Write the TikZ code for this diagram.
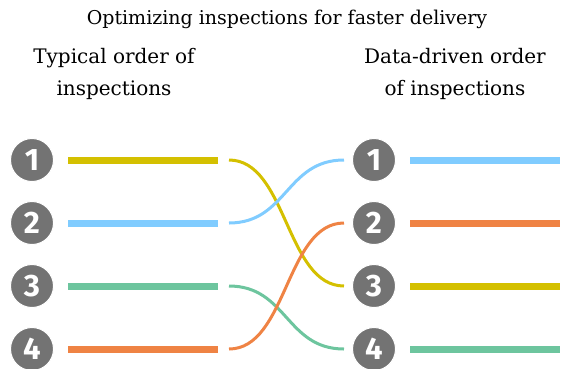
\documentclass[tikz,border=0pt]{standalone}
\usepackage{fontspec}
\setmainfont{DejaVu Serif}
\newfontfamily\numfont{Fira Sans}
\usepackage{tikz}
\definecolor{yel}{RGB}{212,192,0}
\definecolor{blu}{RGB}{128,204,255}
\definecolor{grn}{RGB}{109,197,158}
\definecolor{org}{RGB}{239,131,68}
\definecolor{disk}{RGB}{115,115,115}
\tikzset{num/.style={draw=white,line width=1pt,shape=circle,fill=disk,minimum size=43pt,inner sep=0pt,text=white,font=\numfont\bfseries\fontsize{31}{31}\selectfont}}
\tikzset{bar/.style={line width=7pt}}
\tikzset{swap/.style={line width=3pt}}
\tikzset{head/.style={align=center,font=\fontsize{20}{32}\selectfont}}

\begin{document}
\begin{tikzpicture}[x=1pt,y=-1pt]
		\useasboundingbox (0,0) rectangle (564,368);

		\node[font=\fontsize{19}{21}\selectfont](title) at (287,19){Optimizing inspections for faster delivery};
		\node[head](typ) at (114,74){Typical order of\\inspections};
		\node[head](dat) at (455,74){Data-driven order\\of inspections};

		% left column
		\node[num](l1) at (32,160){1};
		\node[num](l2) at (32,223){2};
		\node[num](l3) at (32,286){3};
		\node[num](l4) at (32,349){4};

		% right column
		\node[num](r1) at (374,160){1};
		\node[num](r2) at (374,223){2};
		\node[num](r3) at (374,286){3};
		\node[num](r4) at (374,349){4};

		\coordinate (la1) at (68,160);  \coordinate (lb1) at (218,160);
		\coordinate (la2) at (68,223);  \coordinate (lb2) at (218,223);
		\coordinate (la3) at (68,286);  \coordinate (lb3) at (218,286);
		\coordinate (la4) at (68,349);  \coordinate (lb4) at (218,349);

		\coordinate (lc1) at (229,160); \coordinate (rc1) at (344,160);
		\coordinate (lc2) at (229,223); \coordinate (rc2) at (344,223);
		\coordinate (lc3) at (229,286); \coordinate (rc3) at (344,286);
		\coordinate (lc4) at (229,349); \coordinate (rc4) at (344,349);

		\coordinate (ra1) at (410,160); \coordinate (rb1) at (560,160);
		\coordinate (ra2) at (410,223); \coordinate (rb2) at (560,223);
		\coordinate (ra3) at (410,286); \coordinate (rb3) at (560,286);
		\coordinate (ra4) at (410,349); \coordinate (rb4) at (560,349);

		\draw[bar,yel] (la1) -- (lb1);
		\draw[bar,blu] (la2) -- (lb2);
		\draw[bar,grn] (la3) -- (lb3);
		\draw[bar,org] (la4) -- (lb4);

		\draw[swap,yel] (lc1) .. controls +(58,0) and +(-58,0) .. (rc3);
		\draw[swap,blu] (lc2) .. controls +(58,0) and +(-58,0) .. (rc1);
		\draw[swap,grn] (lc3) .. controls +(58,0) and +(-58,0) .. (rc4);
		\draw[swap,org] (lc4) .. controls +(58,0) and +(-58,0) .. (rc2);

		\draw[bar,blu] (ra1) -- (rb1);
		\draw[bar,org] (ra2) -- (rb2);
		\draw[bar,yel] (ra3) -- (rb3);
		\draw[bar,grn] (ra4) -- (rb4);
	\end{tikzpicture}
\end{document}
